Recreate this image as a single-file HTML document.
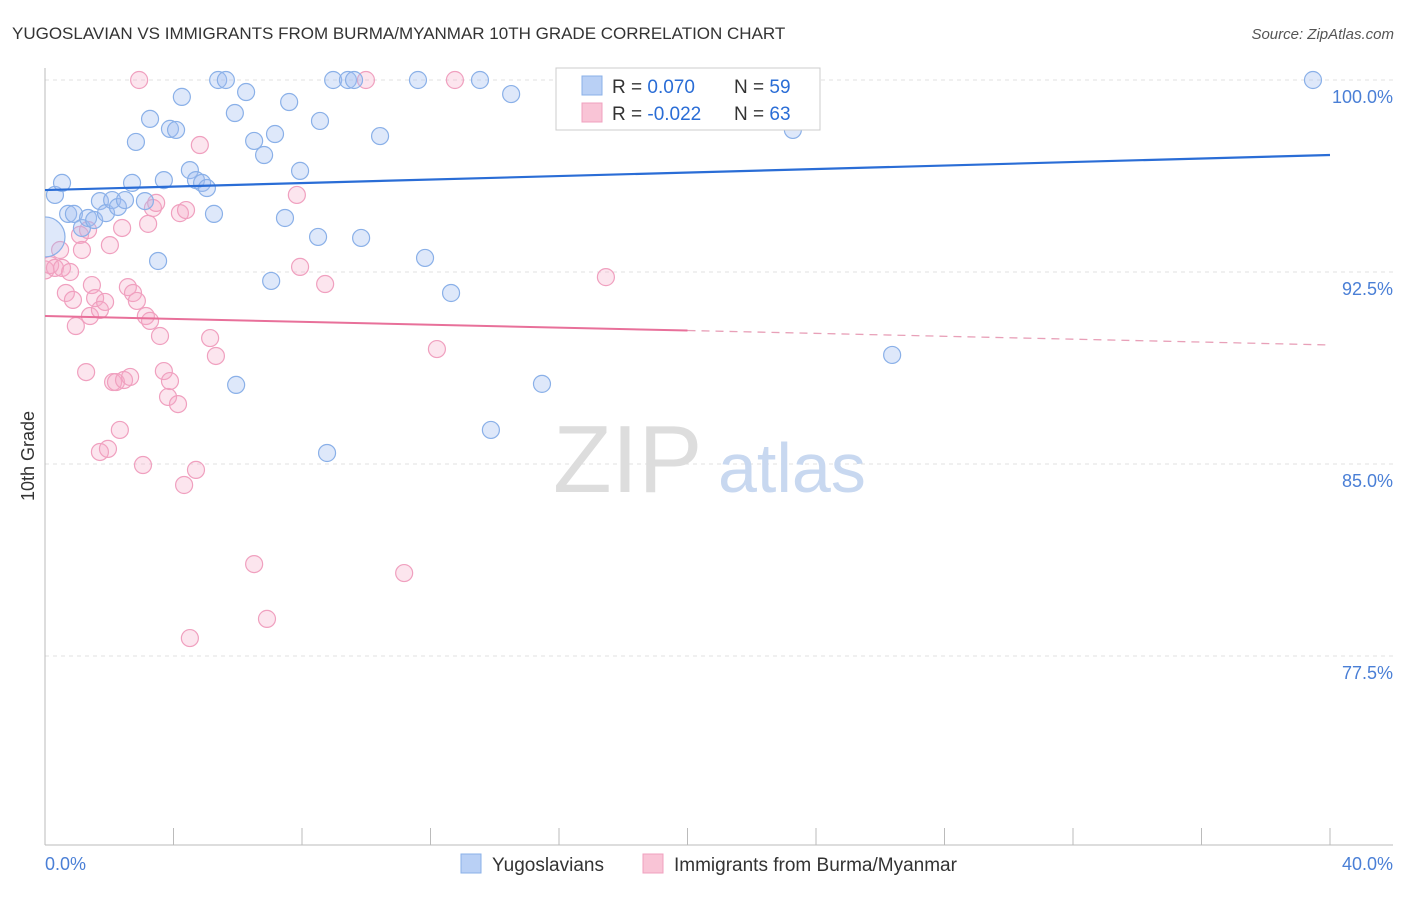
<!DOCTYPE html>
<html><head><meta charset="utf-8"><style>
body{margin:0;background:#fff;font-family:"Liberation Sans",sans-serif;}
svg text{font-family:"Liberation Sans",sans-serif;}
</style></head><body>
<svg id="chart" width="1406" height="892">
<defs><clipPath id="plotclip"><rect x="45" y="50" width="1360" height="795"/></clipPath></defs>
<text x="12" y="39" font-size="17" fill="#333">YUGOSLAVIAN VS IMMIGRANTS FROM BURMA/MYANMAR 10TH GRADE CORRELATION CHART</text>
<text x="1394" y="39" font-size="15" fill="#555" font-style="italic" text-anchor="end">Source: ZipAtlas.com</text>
<g id="grid"></g>
<g>
<text x="553" y="492" font-size="96" fill="#ddd" font-family="Liberation Serif">ZIP</text>
<text x="718" y="492" font-size="70" fill="#c8d8f0">atlas</text>
</g>
<line x1="45" y1="68" x2="45" y2="845" stroke="#bbb"/>
<line x1="45" y1="845" x2="1393" y2="845" stroke="#bbb"/>
<g id="xticks"></g>
<g id="ylabels"></g>
<text x="34" y="456" font-size="18" fill="#333" transform="rotate(-90 34 456)" text-anchor="middle">10th Grade</text>
<text x="45" y="870" font-size="18" fill="#4a7fd6">0.0%</text>
<text x="1393" y="870" font-size="18" fill="#4a7fd6" text-anchor="end">40.0%</text>
<g clip-path="url(#plotclip)">
<g id="pinkPts"></g>
<g id="bluePts"></g>
<g id="lines"></g>
</g>
<g>
<rect x="556" y="68" width="264" height="62" fill="#fff" stroke="#ccc"/>
<rect x="582" y="76" width="20" height="19" fill="#b9d0f5" stroke="#8ab0e8"/>
<rect x="582" y="103" width="20" height="19" fill="#f9c4d6" stroke="#f0a0bf"/>
<text x="612" y="93" font-size="19" fill="#333">R = <tspan fill="#2a6dd6"> 0.070</tspan></text>
<text x="734" y="93" font-size="19" fill="#333">N = <tspan fill="#2a6dd6">59</tspan></text>
<text x="612" y="120" font-size="19" fill="#333">R = <tspan fill="#2a6dd6">-0.022</tspan></text>
<text x="734" y="120" font-size="19" fill="#333">N = <tspan fill="#2a6dd6">63</tspan></text>
</g>
<g>
<rect x="461" y="854" width="20" height="19" fill="#b9d0f5" stroke="#8ab0e8"/>
<text x="492" y="871" font-size="19" fill="#333">Yugoslavians</text>
<rect x="643" y="854" width="20" height="19" fill="#f9c4d6" stroke="#f0a0bf"/>
<text x="674" y="871" font-size="19" fill="#333">Immigrants from Burma/Myanmar</text>
</g>
</svg>
<script>
const yTicks=[100,92.5,85,77.5];
const yTickLabels=["100.0%","92.5%","85.0%","77.5%"];
const xTicks=[0,4,8,12,16,20,24,28,32,36,40];
const blueX=[0,0.31,0.53,0.72,0.90,1.15,1.34,1.53,1.71,1.90,2.09,2.27,2.49,2.71,2.83,3.11,3.27,3.52,3.70,3.89,4.08,4.26,4.51,4.70,4.89,5.04,5.26,5.39,5.63,5.91,5.95,6.26,6.51,6.82,7.04,7.16,7.47,7.60,7.94,8.50,8.56,8.78,8.97,9.43,9.62,9.84,10.43,11.61,11.83,12.64,13.54,13.88,14.51,15.47,20.58,23.28,26.37,39.47];
const blueY=[93.87,95.51,95.98,94.77,94.77,94.22,94.61,94.53,95.27,94.80,95.31,95.04,95.31,95.98,97.58,95.27,98.48,92.93,96.09,98.09,98.05,99.34,96.48,96.09,95.98,95.78,94.77,100,100,98.71,88.09,99.53,97.62,97.07,92.15,97.89,94.61,99.14,96.45,93.87,98.40,85.43,100,100,100,93.83,97.81,100,93.05,91.68,100,86.33,99.45,88.13,100,98.05,89.26,100];
const pinkX=[0,0.16,0.31,0.47,0.53,0.65,0.78,0.87,0.96,1.09,1.15,1.28,1.40,1.46,1.56,1.71,1.71,1.87,1.96,2.02,2.12,2.21,2.33,2.40,2.46,2.58,2.65,2.74,2.86,2.93,3.05,3.14,3.21,3.27,3.36,3.46,3.58,3.70,3.83,3.89,4.14,4.20,4.33,4.39,4.51,4.70,4.82,5.14,5.32,6.51,6.91,7.84,7.94,8.72,9.99,11.18,12.20,12.76,17.46,1.34];
const pinkY=[92.58,92.77,92.66,93.36,92.66,91.68,92.50,91.41,90.39,93.95,93.36,88.59,90.78,91.99,91.48,91.02,85.47,91.33,85.59,93.55,88.20,88.20,86.33,94.22,88.28,91.91,88.40,91.68,91.37,100,84.96,90.78,94.38,90.59,95.00,95.20,90.00,88.63,87.62,88.24,87.34,94.80,84.18,94.92,78.20,84.77,97.46,89.92,89.22,81.09,78.95,95.51,92.70,92.03,100,80.74,89.49,100,92.30,94.14];
const blueTrend=[95.70,97.07];
const pinkTrend=[90.78,89.65];
const X=v=>45+v*32.125, Y=v=>80+(100-v)*25.6;
const NS="http://www.w3.org/2000/svg";
function mk(t,p,a){const e=document.createElementNS(NS,t);for(const k in a)e.setAttribute(k,a[k]);p.appendChild(e);return e;}
const g=document.getElementById('grid'),yl=document.getElementById('ylabels');
yTicks.forEach((t,i)=>{
 const l=mk('line',g,{x1:45,x2:1393,y1:Y(t),y2:Y(t),stroke:'#e0e0e0','stroke-dasharray':'4,4'});
 
 
 const tx=mk('text',yl,{x:1393,y:Y(t)+23,'font-size':18,fill:'#4a7fd6','text-anchor':'end'});
 tx.textContent=yTickLabels[i];
 
 
});
const xt=document.getElementById('xticks');
xTicks.forEach(t=>{
 const l=mk('line',xt,{x1:X(t),x2:X(t),y1:828,y2:845,stroke:'#bbb'});
 
 
});
function pts(id,xs,ys,fill,stroke,bigR){
 const p=document.getElementById(id);
 xs.forEach((x,i)=>{
  const c=mk('circle',p,{cx:X(x),cy:Y(ys[i]),r:(i===0?bigR:8.5),fill:fill,stroke:stroke,'stroke-width':1.2});
  
  
 });
}
pts('pinkPts',pinkX,pinkY,'rgba(245,170,200,0.3)','#f0a0bf',9);
pts('bluePts',blueX,blueY,'rgba(160,190,240,0.35)','#8ab0e8',20);
const ln=document.getElementById('lines');
const b=mk('line',ln,{x1:X(0),y1:Y(blueTrend[0]),x2:X(40),y2:Y(blueTrend[1]),stroke:'#2a6dd6','stroke-width':2.2});


const pm=pinkTrend[0]+(pinkTrend[1]-pinkTrend[0])*0.5;
const p1=mk('line',ln,{x1:X(0),y1:Y(pinkTrend[0]),x2:X(20),y2:Y(pm),stroke:'#e8709a','stroke-width':2});


const p2=mk('line',ln,{x1:X(20),y1:Y(pm),x2:X(40),y2:Y(pinkTrend[1]),stroke:'#e8a0b8','stroke-width':1.3,'stroke-dasharray':'8,6'});


</script>
</body></html>
